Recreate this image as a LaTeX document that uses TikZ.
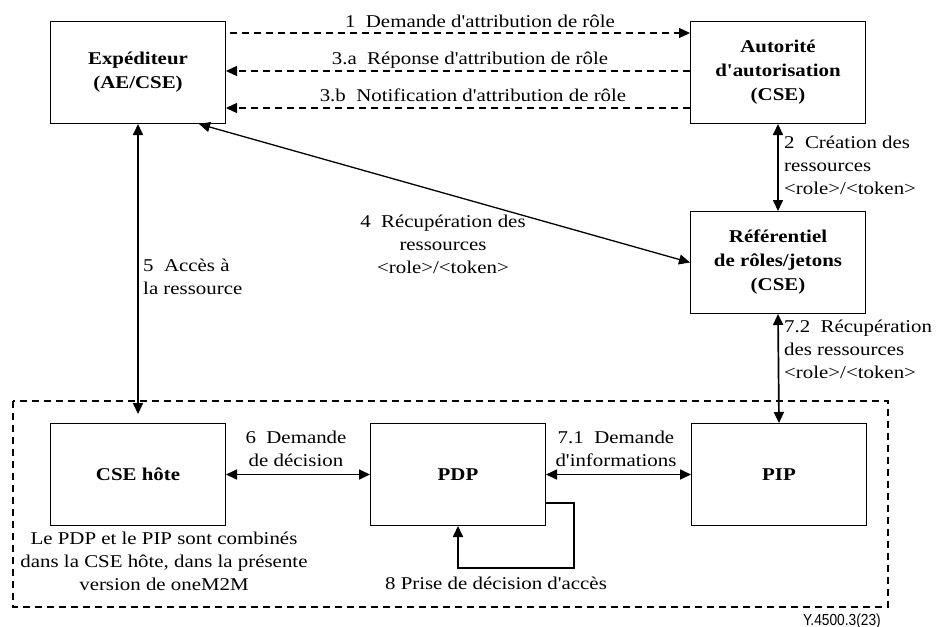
\documentclass[tikz,border=0pt]{standalone}
\usepackage{fontspec}
\setmainfont{Liberation Serif}[FakeStretch=1.16, Ligatures=TeXOff]
\newfontfamily\figid{Liberation Sans}[FakeStretch=0.86]
\usetikzlibrary{arrows.meta}
\begin{document}
\begin{tikzpicture}[x=1pt,y=-1pt,
  txt/.style={font=\fontsize{18}{23}\selectfont, inner sep=0pt},
  box/.style={draw, line width=1pt, minimum width=175pt, minimum height=102pt,
    inner sep=0pt, align=center, font=\bfseries\fontsize{18}{24}\selectfont},
  flow/.style={line width=1.7pt, -{Triangle[length=11pt,width=10pt]}},
  twoway/.style={line width=1.7pt, {Triangle[length=11pt,width=10pt]}-{Triangle[length=11pt,width=10pt]}},
  msg/.style={line width=1.3pt, dash pattern=on 7pt off 5pt, -{Triangle[length=11pt,width=10pt]}},
]
\useasboundingbox (0,0) rectangle (938,627);

% entities
\node[box, anchor=north west] (exp) at (50,21)  {Expéditeur\\(AE/CSE)};
\node[box, anchor=north west] (aut) at (690,21) {Autorité\\d'autorisation\\(CSE)};
\node[box, anchor=north west] (ref) at (690,211) {Référentiel\\de rôles/jetons\\(CSE)};

% host domain
\draw[line width=1.3pt, dash pattern=on 7pt off 5pt] (13,401) rectangle (888,607);
\node[box, anchor=north west] (hst) at (50,423)  {CSE hôte};
\node[box, anchor=north west] (pdp) at (370,423) {PDP};
\node[box, anchor=north west] (pip) at (691,423) {PIP};

% role attribution messages
\draw[msg] ([xshift=4pt]exp.east |- 0,33) -- (aut.west |- 0,33);
\draw[msg] (aut.west |- 0,71) -- (exp.east |- 0,71);
\draw[msg] (aut.west |- 0,108) -- (exp.east |- 0,108);
\node[txt, anchor=base] (l1)  at (480,27)  {1~ Demande d'attribution de rôle};
\node[txt, anchor=base] (l3a) at (470,64)  {3.a~ Réponse d'attribution de rôle};
\node[txt, anchor=base] (l3b) at (473,101) {3.b~ Notification d'attribution de rôle};

% resource creation and retrieval
\draw[twoway] (aut.south) -- (ref.north);
\node[txt, anchor=north west, align=left] (l2) at (784,136)
  {2~ Création des\\ressources\\<role>/<token>};

\draw[line width=1.3pt, {Triangle[length=11pt,width=10pt]}-{Triangle[length=11pt,width=10pt]}]
  ([xshift=-27pt]exp.south east) -- (ref.west);
\node[txt, anchor=north, align=center] (l4) at (443,215)
  {4~ Récupération des\\ressources\\<role>/<token>};

\draw[twoway, shorten >=9pt] (exp.south) -- (hst.north);
\node[txt, anchor=north west, align=left] (l5) at (143,259)
  {5~ Accès à\\la ressource};

\draw[twoway] (ref.south) -- (pip.north);
\node[txt, anchor=north west, align=left] (l72) at (784,320)
  {7.2~ Récupération\\des ressources\\<role>/<token>};

% decision flow inside the host
\draw[twoway] (hst.east) -- (pdp.west);
\node[txt, anchor=north, align=center] (l6) at (296,431)
  {6~ Demande\\de décision};

\draw[twoway] (pdp.east) -- (pip.west);
\node[txt, anchor=north, align=center] (l71) at (616,431)
  {7.1~ Demande\\d'informations};

\coordinate (loop) at (574,568);
\draw[flow] (pdp.east |- 0,503) -| (loop) -| (pdp.south);
\node[txt, anchor=north] (l8) at (496,577) {8 Prise de décision d'accès};

\node[txt, anchor=north, align=center] (note) at (164,532)
  {Le PDP et le PIP sont combinés\\dans la CSE hôte, dans la présente\\version de oneM2M};

\node[font=\figid\fontsize{16}{18}\selectfont, inner sep=0pt, anchor=base east] (ref id) at (881,625) {Y.4500.3(23)};
\end{tikzpicture}
\end{document}
